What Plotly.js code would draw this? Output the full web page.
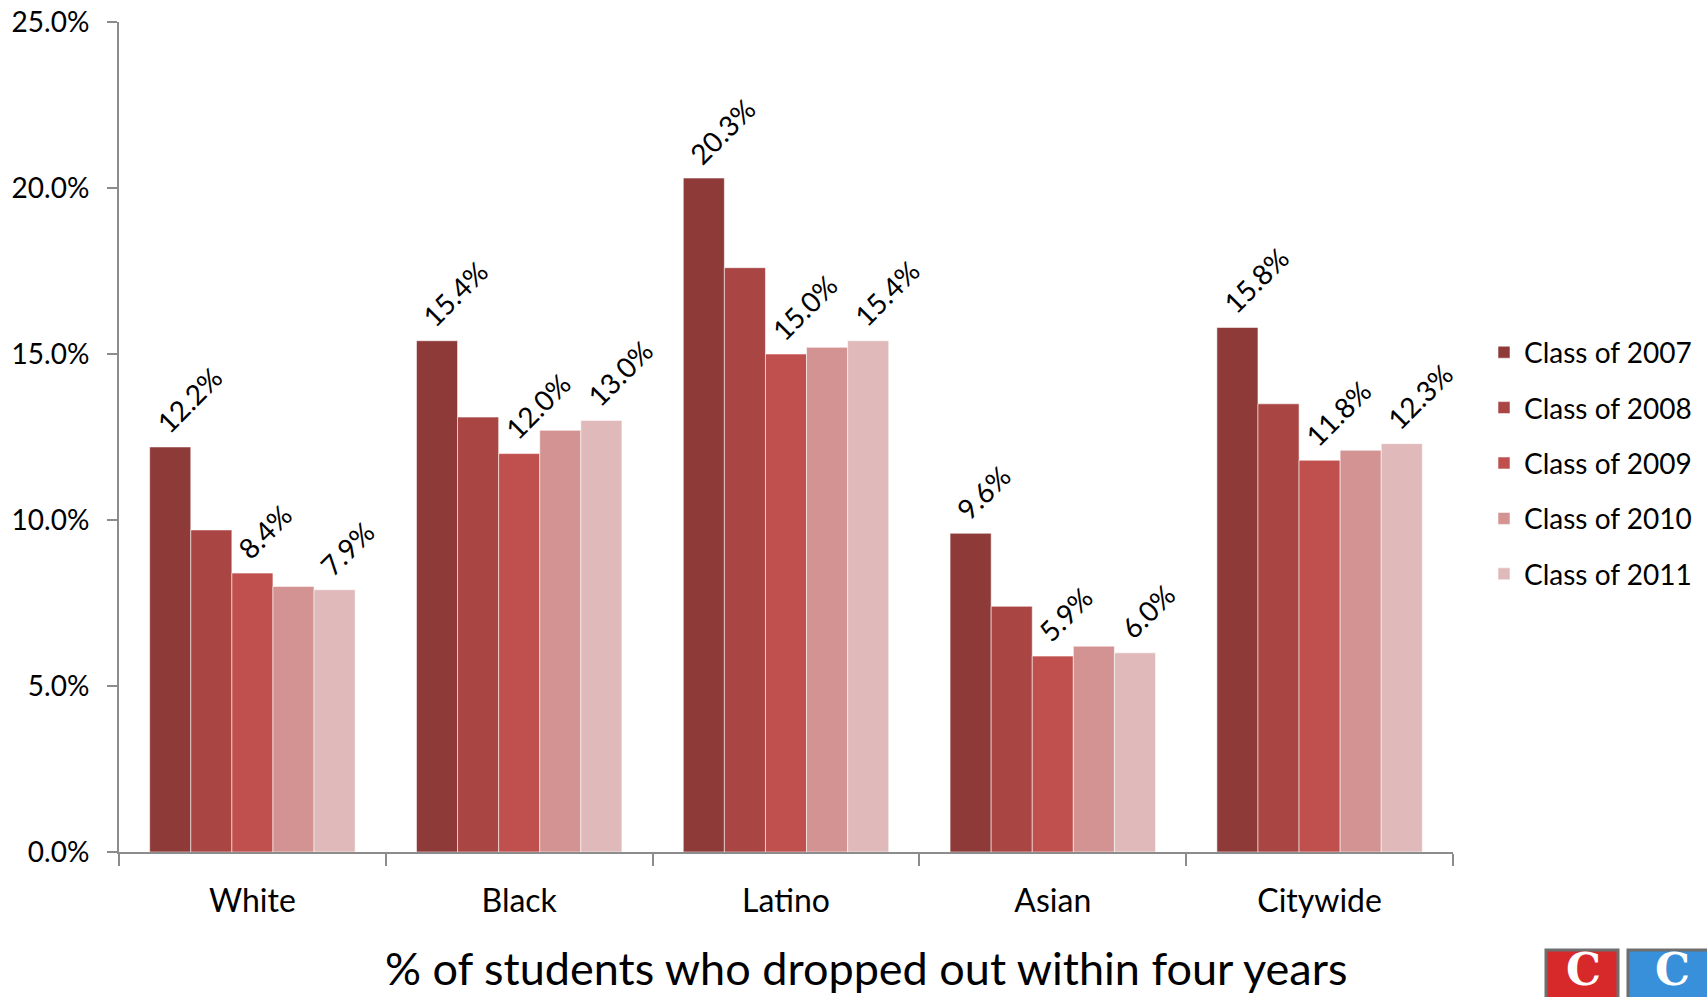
<!DOCTYPE html>
<html>
<head>
<meta charset="utf-8">
<script src="https://cdn.plot.ly/plotly-3.0.1.min.js"></script>
<style>html,body{margin:0;padding:0;background:#fff;}#chart{width:1707px;height:997px;}</style>
</head>
<body>
<div id="chart"></div>
<script>
const categories = ["White", "Black", "Latino", "Asian", "Citywide"];
const seriesNames = ["Class of 2007", "Class of 2008", "Class of 2009", "Class of 2010", "Class of 2011"];
const class2007 = [12.2, 15.4, 20.3, 9.6, 15.8];
const class2008 = [9.7, 13.1, 17.6, 7.4, 13.5];
const class2009 = [8.4, 12.0, 15.0, 5.9, 11.8];
const class2010 = [8.0, 12.7, 15.2, 6.2, 12.1];
const class2011 = [7.9, 13.0, 15.4, 6.0, 12.3];
const labelledSeries = [0, 2, 4];
const yTickVals = [0, 5, 10, 15, 20, 25];
const xTitle = "% of students who dropped out within four years";

const seriesValues = [class2007, class2008, class2009, class2010, class2011];
const colors = ["#8E3A38", "#A94644", "#C0504D", "#D39392", "#E0BABA"];
const FONT = "Lato, 'Open Sans', sans-serif";
const bargap = 0.23;

const traces = seriesValues.map((vals, i) => ({
  type: "bar",
  name: seriesNames[i],
  x: categories,
  y: vals,
  legendgroup: "g" + i,
  marker: { color: colors[i], line: { color: "rgba(255,255,255,0.55)", width: 1 } },
  hoverinfo: "x+y+name"
}));

const n = seriesValues.length;
const groupW = 1 - bargap;
const annotations = [];
labelledSeries.forEach(si => {
  seriesValues[si].forEach((v, ci) => {
    const xc = ci - groupW / 2 + groupW / n * (si + 0.5);
    annotations.push({
      x: xc, y: v, xref: "x", yref: "y",
      text: v.toFixed(1) + "%",
      showarrow: false, textangle: -45,
      xanchor: "left", yanchor: "bottom",
      xshift: -24, yshift: 5,
      font: { family: FONT, size: 28, color: "#000" }
    });
  });
});

annotations.push({
  xref: "paper", yref: "paper",
  x: (866 - 119) / 1334, y: (852 - 968) / 830,
  xanchor: "center", yanchor: "middle",
  text: xTitle, showarrow: false,
  font: { family: FONT, size: 45, color: "#000" }
});

// logo letters
const px = v => (v - 119) / 1334;
const py = v => (852 - v) / 830;
annotations.push({ xref: "paper", yref: "paper", x: px(1583), y: py(997), text: "<b>C</b>", showarrow: false,
  xanchor: "center", yanchor: "bottom", font: { family: "'DejaVu Serif', serif", size: 44, color: "#fff" } });
annotations.push({ xref: "paper", yref: "paper", x: px(1672), y: py(997), text: "<b>C</b>", showarrow: false,
  xanchor: "center", yanchor: "bottom", font: { family: "'DejaVu Serif', serif", size: 44, color: "#fff" } });

const shapes = [
  { type: "rect", xref: "paper", yref: "paper", x0: px(1546), x1: px(1618), y0: py(1010), y1: py(950),
    fillcolor: "#D7282A", line: { color: "#6e6e6e", width: 3 }, layer: "below" },
  { type: "rect", xref: "paper", yref: "paper", x0: px(1628), x1: px(1720), y0: py(1010), y1: py(950),
    fillcolor: "#3890DB", line: { color: "#6e6e6e", width: 3 }, layer: "below" }
];

const layout = {
  width: 1707, height: 997,
  margin: { l: 119, r: 254, t: 22, b: 145, autoexpand: false },
  paper_bgcolor: "#fff", plot_bgcolor: "#fff",
  barmode: "group", bargap: bargap, bargroupgap: 0,
  font: { family: FONT, color: "#000" },
  xaxis: {
    type: "category",
    range: [-0.5, categories.length - 0.5],
    showline: true, linecolor: "#8c8c8c", linewidth: 2,
    ticks: "outside", tickson: "boundaries", ticklen: 12, tickcolor: "#8c8c8c", tickwidth: 2,
    tickfont: { family: FONT, size: 32, color: "#000" },
    ticklabelstandoff: 20, automargin: false,
    showgrid: false, zeroline: false, fixedrange: true
  },
  yaxis: {
    range: [0, 25],
    tickvals: yTickVals,
    ticktext: yTickVals.map(v => v.toFixed(1) + "%"),
    showline: true, linecolor: "#8c8c8c", linewidth: 2,
    ticks: "outside", ticklen: 10, tickcolor: "#8c8c8c", tickwidth: 2,
    tickfont: { family: FONT, size: 28, color: "#000" },
    ticklabelstandoff: 12, automargin: false,
    showgrid: false, zeroline: false, fixedrange: true
  },
  legend: {
    x: (1484 - 119) / 1334, y: (852 - 463) / 830,
    xanchor: "left", yanchor: "middle",
    font: { family: FONT, size: 28, color: "#000" },
    traceorder: "grouped", tracegroupgap: 16,
    itemwidth: 30, bgcolor: "rgba(0,0,0,0)"
  },
  annotations: annotations,
  shapes: shapes,
  showlegend: true
};

Plotly.newPlot("chart", traces, layout, { displayModeBar: false, staticPlot: true });
</script>
</body>
</html>
